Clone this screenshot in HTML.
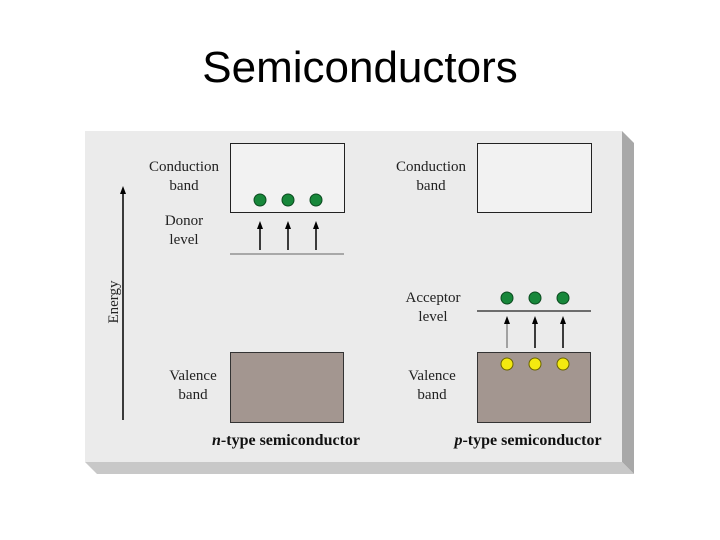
<!DOCTYPE html>
<html><head><meta charset="utf-8"><style>
html,body{margin:0;padding:0;background:#fff;width:720px;height:540px;overflow:hidden}
</style></head><body>
<svg width="720" height="540" viewBox="0 0 720 540" xmlns="http://www.w3.org/2000/svg">
<defs><marker id="a" markerWidth="8" markerHeight="8" refX="4" refY="4" orient="auto" markerUnits="userSpaceOnUse"><path d="M0,1 L8,4 L0,7 Z" fill="#000"/></marker></defs>
<text x="360" y="82" text-anchor="middle" font-family="Liberation Sans, sans-serif" font-size="44" fill="#000">Semiconductors</text>
<polygon points="622,131 634,143 634,474 622,462" fill="#a8a8a8"/>
<polygon points="85,462 622,462 634,474 97,474" fill="#c8c8c8"/>
<rect x="85" y="131" width="537" height="331" fill="#ebebeb"/>
<g font-family="Liberation Serif, serif" font-size="15" fill="#222" text-anchor="middle">
<text x="184" y="171">Conduction</text><text x="184" y="190">band</text>
<text x="184" y="225">Donor</text><text x="184" y="244">level</text>
<text x="193" y="380">Valence</text><text x="193" y="399">band</text>
<text x="431" y="171">Conduction</text><text x="431" y="190">band</text>
<text x="433" y="302">Acceptor</text><text x="433" y="321">level</text>
<text x="432" y="380">Valence</text><text x="432" y="399">band</text>
<text x="118" y="302" transform="rotate(-90 118 302)">Energy</text>
</g>
<g font-family="Liberation Serif, serif" font-size="16" font-weight="bold" fill="#111" text-anchor="middle">
<text x="286" y="445"><tspan font-style="italic">n</tspan>-type semiconductor</text>
<text x="528" y="445"><tspan font-style="italic">p</tspan>-type semiconductor</text>
</g>
<line x1="123" y1="420" x2="123" y2="190" stroke="#000" stroke-width="1.5" marker-end="url(#a)"/>
<rect x="230.5" y="143.5" width="114" height="69" fill="#f2f2f2" stroke="#222"/>
<rect x="477.5" y="143.5" width="114" height="69" fill="#f2f2f2" stroke="#222"/>
<rect x="230.5" y="352.5" width="113" height="70" fill="#a39690" stroke="#333"/>
<rect x="477.5" y="352.5" width="113" height="70" fill="#a39690" stroke="#333"/>
<line x1="230" y1="254" x2="344" y2="254" stroke="#666"/>
<line x1="477" y1="311" x2="591" y2="311" stroke="#222" stroke-width="1.2"/>
<g stroke="#000" stroke-width="1.5">
<line x1="260" y1="250" x2="260" y2="225" marker-end="url(#a)"/>
<line x1="288" y1="250" x2="288" y2="225" marker-end="url(#a)"/>
<line x1="316" y1="250" x2="316" y2="225" marker-end="url(#a)"/>
<line x1="507" y1="348" x2="507" y2="320" stroke="#888" marker-end="url(#a)"/>
<line x1="535" y1="348" x2="535" y2="320" marker-end="url(#a)"/>
<line x1="563" y1="348" x2="563" y2="320" marker-end="url(#a)"/>
</g>
<g fill="#17873a" stroke="#0b4a1f">
<circle cx="260" cy="200" r="6"/><circle cx="288" cy="200" r="6"/><circle cx="316" cy="200" r="6"/>
<circle cx="507" cy="298" r="6"/><circle cx="535" cy="298" r="6"/><circle cx="563" cy="298" r="6"/>
</g>
<g fill="#f4ea10" stroke="#6b6400">
<circle cx="507" cy="364" r="6"/><circle cx="535" cy="364" r="6"/><circle cx="563" cy="364" r="6"/>
</g>
</svg>
</body></html>
